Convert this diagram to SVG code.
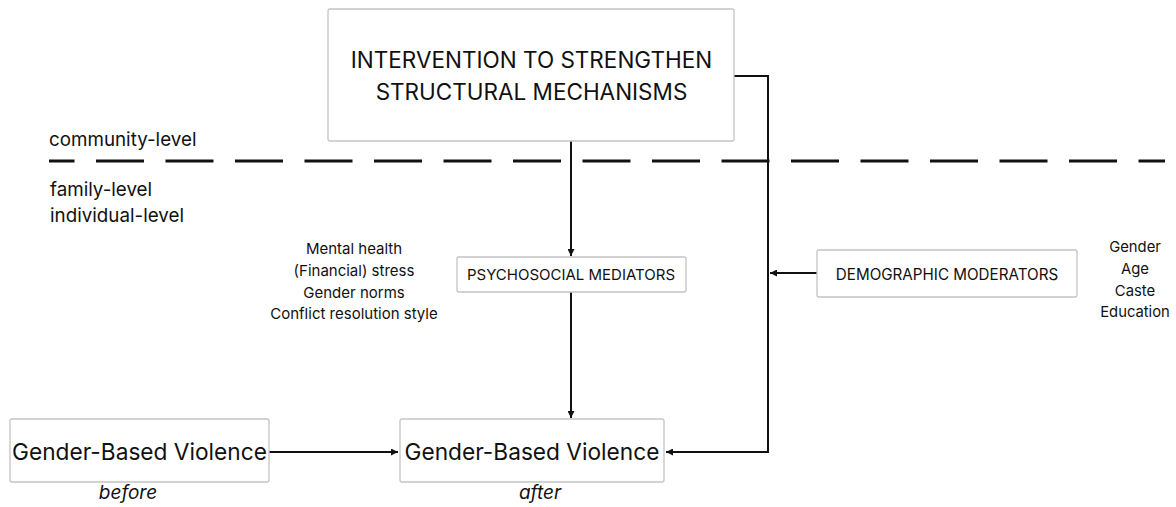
<svg xmlns="http://www.w3.org/2000/svg" width="1176" height="507" viewBox="0 0 1176 507">
<style>
.box{fill:#fff;stroke:#c4c4c4;stroke-width:1.3}
.t{font-family:Inter,"Liberation Sans",sans-serif;fill:#111;text-anchor:middle}
.lvl{font-family:Inter,"Open Sans",sans-serif;fill:#111;font-size:18.8px}
.con{fill:none;stroke:#111;stroke-width:2}
</style>
<defs>
<marker id="ah" viewBox="0 0 10 10" refX="10" refY="5" markerWidth="7" markerHeight="7" markerUnits="userSpaceOnUse" orient="auto">
<path d="M0,0 L10,5 L0,10 z" fill="#111"/>
</marker>
</defs>
<rect width="1176" height="507" fill="#fff"/>
<line x1="49" y1="161" x2="1165" y2="161" stroke="#111" stroke-width="3" stroke-dasharray="48 21.5" stroke-dashoffset="22.5"/>
<text class="lvl" x="49" y="146">community-level</text>
<text class="lvl" x="50" y="196">family-level</text>
<text class="lvl" x="50" y="222">individual-level</text>
<g id="connectors">
<path class="con" d="M734,76 H768 V452 H666" marker-end="url(#ah)"/>
<path class="con" d="M571,141 V256" marker-end="url(#ah)"/>
<path class="con" d="M817,273 H770" marker-end="url(#ah)"/>
<path class="con" d="M571,292 V418" marker-end="url(#ah)"/>
<path class="con" d="M269,452 H398" marker-end="url(#ah)"/>
</g>
<g id="intervention">
<rect class="box" x="328" y="9" width="406" height="132" rx="2"/>
<text class="t" x="531.5" y="68" font-size="22.5">INTERVENTION TO STRENGTHEN</text>
<text class="t" x="531.5" y="100" font-size="22.5">STRUCTURAL MECHANISMS</text>
</g>
<g id="mediators">
<rect class="box" x="457" y="257" width="229" height="35" rx="2"/>
<text class="t" x="571" y="280" font-size="15">PSYCHOSOCIAL MEDIATORS</text>
</g>
<g id="mediator-list">
<text class="t" x="354" y="254" font-size="15">Mental health</text>
<text class="t" x="354" y="276" font-size="15">(Financial) stress</text>
<text class="t" x="354" y="298" font-size="15">Gender norms</text>
<text class="t" x="354" y="319" font-size="15">Conflict resolution style</text>
</g>
<g id="moderators">
<rect class="box" x="817" y="250" width="260" height="47" rx="2"/>
<text class="t" x="947" y="280" font-size="15.2">DEMOGRAPHIC MODERATORS</text>
</g>
<g id="moderator-list">
<text class="t" x="1135" y="252" font-size="14.8">Gender</text>
<text class="t" x="1135" y="274" font-size="14.8">Age</text>
<text class="t" x="1135" y="296" font-size="14.8">Caste</text>
<text class="t" x="1135" y="317" font-size="14.8">Education</text>
</g>
<g id="gbv-before">
<rect class="box" x="10" y="419" width="259" height="63" rx="2"/>
<text class="t" x="139.5" y="460" font-size="22.7">Gender-Based Violence</text>
<text class="t" x="128" y="499" font-size="19" font-style="italic">before</text>
</g>
<g id="gbv-after">
<rect class="box" x="400" y="419" width="264" height="63" rx="2"/>
<text class="t" x="532" y="460" font-size="22.7">Gender-Based Violence</text>
<text class="t" x="540" y="499" font-size="19" font-style="italic">after</text>
</g>
</svg>
